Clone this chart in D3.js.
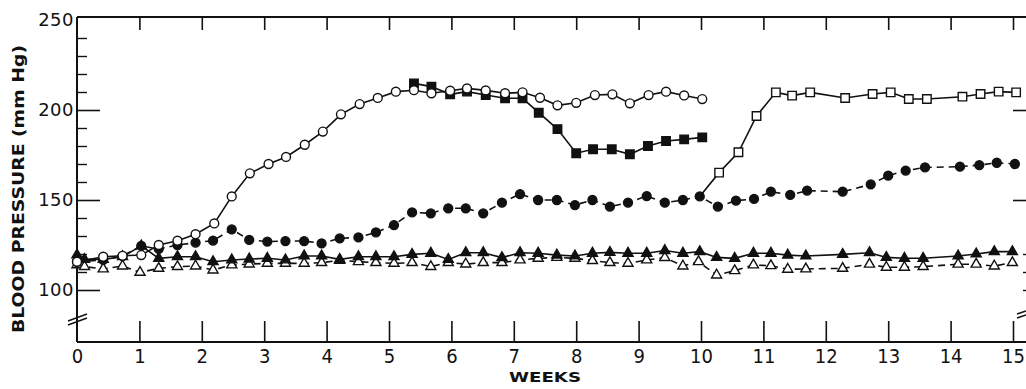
<!DOCTYPE html>
<html>
<head>
<meta charset="utf-8">
<script src="https://cdn.jsdelivr.net/npm/d3@7"></script>
<style>
  html, body { margin: 0; padding: 0; background: #fff; }
  svg { display: block; }
</style>
</head>
<body>
<div id="chart"></div>
<script>
// weeks on the x axis, blood pressure (mm Hg) on the y axis
const weekTicks = d3.range(0, 16);
const bpLabels = [100, 150, 200, 250];
const bpMinor = [110, 120, 130, 140, 160, 170, 180, 190, 210, 220, 230, 240];

// open circles, solid line
const openCircleWeeks = [0, 0.42, 0.73, 1.03, 1.31, 1.61, 1.90, 2.20, 2.48, 2.77, 3.07, 3.35, 3.65, 3.94, 4.23, 4.53, 4.82, 5.11, 5.40, 5.68, 5.98, 6.25, 6.55, 6.86, 7.14, 7.42, 7.70, 8.00, 8.30, 8.58, 8.86, 9.16, 9.44, 9.73, 10.02];
const openCircleBP = [115.7, 118.5, 119, 119.4, 125, 127.4, 131, 137, 152, 164.8, 170, 173.9, 180.7, 188, 197.6, 203.3, 206.7, 210.2, 211, 209.3, 210.7, 212, 210.9, 209.3, 209.8, 206.8, 202.6, 204, 208.3, 208.7, 203.7, 208.3, 210.2, 208.1, 206.1];

// filled squares, solid line
const filledSquareWeeks = [5.40, 5.68, 5.98, 6.25, 6.55, 6.86, 7.14, 7.40, 7.70, 8.00, 8.27, 8.57, 8.86, 9.15, 9.44, 9.73, 10.02];
const filledSquareBP = [214.8, 213, 208.7, 210.2, 208.3, 206.5, 206.5, 198.5, 189.4, 176, 178.2, 178.2, 175.4, 180, 182.8, 183.7, 184.8];

// open squares, solid line (branches off the filled circles at week 10)
const openSquareWeeks = [10.29, 10.60, 10.89, 11.20, 11.46, 11.75, 12.31, 12.75, 13.04, 13.33, 13.62, 14.19, 14.48, 14.77, 15.05];
const openSquareBP = [165.2, 176.5, 196.7, 209.8, 208, 209.8, 206.7, 208.9, 209.8, 206.1, 206.1, 207.4, 208.9, 210.2, 209.8];

// filled circles, dashed line
const filledCircleWeeks = [0, 0.42, 0.73, 1.03, 1.31, 1.61, 1.90, 2.18, 2.48, 2.76, 3.05, 3.34, 3.64, 3.92, 4.21, 4.51, 4.79, 5.08, 5.37, 5.67, 5.95, 6.23, 6.51, 6.81, 7.10, 7.39, 7.69, 7.98, 8.26, 8.54, 8.83, 9.13, 9.42, 9.71, 9.98, 10.27, 10.56, 10.85, 11.12, 11.43, 11.70, 12.27, 12.72, 13.00, 13.28, 13.59, 14.15, 14.46, 14.74, 15.03];
const filledCircleBP = [115.7, 116.7, 118.9, 124.5, 122.8, 125, 126.3, 127.4, 133.7, 127.8, 126.9, 127.2, 127.2, 125.9, 128.7, 129.2, 132, 136.1, 143.1, 142.6, 145.4, 145.4, 142.6, 148.5, 153.3, 150, 150, 147.2, 150, 146.3, 148.5, 152.2, 148.5, 150, 152, 146.3, 149.6, 150.6, 154.6, 152.8, 155.2, 154.6, 158.7, 163.5, 166.3, 168.1, 168.5, 169.4, 170.7, 170];

// filled triangles, solid line
const filledTriangleWeeks = [0, 0.12, 0.42, 0.73, 1.03, 1.31, 1.61, 1.90, 2.18, 2.48, 2.76, 3.05, 3.34, 3.64, 3.92, 4.21, 4.51, 4.79, 5.08, 5.37, 5.67, 5.95, 6.23, 6.51, 6.81, 7.10, 7.39, 7.69, 7.98, 8.26, 8.54, 8.83, 9.13, 9.42, 9.71, 9.98, 10.25, 10.54, 10.84, 11.12, 11.39, 11.68, 12.27, 12.70, 12.97, 13.26, 13.56, 14.12, 14.41, 14.70, 14.99];
const filledTriangleBP = [119.5, 117, 117, 118.5, 124.5, 117.6, 118.5, 118.5, 115.7, 116.7, 117.2, 117.6, 116.7, 118.9, 118.9, 117, 118.5, 118.5, 118.5, 119.8, 120.4, 117, 120.7, 120.7, 118, 120.7, 120.4, 119.4, 118.9, 120.4, 120.9, 120.4, 120.4, 121.9, 120.4, 121.3, 118.1, 117.6, 120.4, 120.4, 119.4, 118.9, 119.8, 120.7, 118.1, 117.6, 117.6, 118.9, 120, 121.3, 121.3];

// open triangles, dashed line
const openTriangleWeeks = [0, 0.12, 0.42, 0.73, 1.01, 1.31, 1.61, 1.90, 2.18, 2.48, 2.76, 3.05, 3.34, 3.64, 3.92, 4.21, 4.51, 4.79, 5.08, 5.37, 5.67, 5.95, 6.23, 6.51, 6.81, 7.10, 7.39, 7.69, 7.98, 8.26, 8.54, 8.83, 9.13, 9.42, 9.71, 9.96, 10.25, 10.54, 10.84, 11.12, 11.39, 11.68, 12.27, 12.70, 12.97, 13.26, 13.56, 14.12, 14.41, 14.70, 14.99];
const openTriangleBP = [114, 113, 111.7, 113.3, 109.8, 112, 113, 113.3, 111.1, 113.9, 114.4, 114.8, 114.8, 114.8, 115.2, 116.5, 115.7, 115.2, 114.8, 115.2, 113, 115.2, 114.4, 115.2, 115.2, 116.7, 117.6, 118.1, 117.6, 116.3, 115.2, 114.8, 116.7, 118, 113.3, 115.7, 108.3, 110.7, 113.9, 113.5, 111.5, 111.7, 112, 114.3, 112.6, 112.6, 113, 114.3, 114.3, 113.3, 115.2];

const width = 1026, height = 389;
const frameTop = 17, axisY = 342, axisX = 77, rightX = 1026;

const x = d3.scaleLinear().domain([0, 15]).range([77, 1013]);
const y = d3.scaleLinear().domain([100, 250]).range([290, 20]);

const svg = d3.select("#chart").append("svg")
  .attr("width", width)
  .attr("height", height);

svg.append("rect").attr("width", width).attr("height", height).attr("fill", "#fff");

const ink = "#111";

// frame lines
svg.append("line").attr("x1", axisX).attr("x2", rightX).attr("y1", axisY).attr("y2", axisY)
  .attr("stroke", ink).attr("stroke-width", 2);
svg.append("line").attr("x1", axisX).attr("x2", rightX).attr("y1", frameTop).attr("y2", frameTop)
  .attr("stroke", ink).attr("stroke-width", 2);
svg.append("line").attr("x1", axisX).attr("x2", axisX).attr("y1", frameTop).attr("y2", axisY)
  .attr("stroke", ink).attr("stroke-width", 2);

// bottom axis: ticks point up into the plot
const xAxisBottom = svg.append("g")
  .attr("transform", "translate(0," + axisY + ")")
  .call(d3.axisBottom(x).tickValues(weekTicks).tickSizeInner(-21).tickSizeOuter(0).tickPadding(7).tickFormat(d3.format("d")));
xAxisBottom.select(".domain").remove();
xAxisBottom.selectAll(".tick line").attr("stroke", ink).attr("stroke-width", 1.6)
  .filter(d => d === 0).remove();
xAxisBottom.selectAll("text")
  .style("font-family", "'DejaVu Sans Condensed', 'DejaVu Sans', sans-serif")
  .style("font-stretch", "condensed")
  .style("font-size", "20px")
  .attr("fill", ink);

// top axis: ticks hang down from the frame
const xAxisTop = svg.append("g")
  .attr("transform", "translate(0," + frameTop + ")")
  .call(d3.axisTop(x).tickValues(weekTicks.slice(1)).tickSizeInner(-13).tickSizeOuter(0).tickFormat(""));
xAxisTop.select(".domain").remove();
xAxisTop.selectAll(".tick line").attr("stroke", ink).attr("stroke-width", 1.6);

// left axis, major ticks + labels
const yAxisLeft = svg.append("g")
  .attr("transform", "translate(" + axisX + ",0)")
  .call(d3.axisLeft(y).tickValues(bpLabels).tickSizeInner(-23).tickSizeOuter(0).tickPadding(3));
yAxisLeft.select(".domain").remove();
yAxisLeft.selectAll(".tick line").attr("stroke", ink).attr("stroke-width", 1.6);
yAxisLeft.selectAll(".tick").filter(d => d === 250).select("line").remove();
yAxisLeft.selectAll("text")
  .style("font-family", "'DejaVu Sans', sans-serif")
  .style("font-size", "18px")
  .style("letter-spacing", "0.5px")
  .attr("fill", ink);

// left axis, minor ticks
const yMinorLeft = svg.append("g")
  .attr("transform", "translate(" + axisX + ",0)")
  .call(d3.axisLeft(y).tickValues(bpMinor).tickSizeInner(-10).tickSizeOuter(0).tickFormat(""));
yMinorLeft.select(".domain").remove();
yMinorLeft.selectAll(".tick line").attr("stroke", ink).attr("stroke-width", 1.4);

// right axis (mostly off the edge), ticks pointing left
const yAxisRight = svg.append("g")
  .attr("transform", "translate(" + rightX + ",0)")
  .call(d3.axisRight(y).tickValues([150, 200]).tickSizeInner(-13).tickSizeOuter(0).tickFormat(""));
yAxisRight.select(".domain").remove();
yAxisRight.selectAll(".tick line").attr("stroke", ink).attr("stroke-width", 1.6);
const yMinorRight = svg.append("g")
  .attr("transform", "translate(" + rightX + ",0)")
  .call(d3.axisRight(y).tickValues([100, 110, 120]).tickSizeInner(-3).tickSizeOuter(0).tickFormat(""));
yMinorRight.select(".domain").remove();
yMinorRight.selectAll(".tick line").attr("stroke", ink).attr("stroke-width", 1.4);

// axis break marks
[[68, 325, 87, 318], [68, 321, 87, 314], [1017, 318, 1026, 315], [1017, 314, 1026, 311]].forEach(s => {
  svg.append("line").attr("x1", s[0]).attr("y1", s[1]).attr("x2", s[2]).attr("y2", s[3])
    .attr("stroke", ink).attr("stroke-width", 1.4);
});

// axis titles
svg.append("text")
  .attr("transform", "translate(24,189) rotate(-90)")
  .attr("text-anchor", "middle")
  .attr("textLength", 288)
  .attr("lengthAdjust", "spacingAndGlyphs")
  .style("font-family", "'DejaVu Sans', sans-serif")
  .style("font-weight", "bold")
  .style("font-size", "15px")
  .attr("fill", ink)
  .text("BLOOD PRESSURE (mm Hg)");

svg.append("text")
  .attr("x", 545).attr("y", 382)
  .attr("text-anchor", "middle")
  .attr("textLength", 72)
  .attr("lengthAdjust", "spacingAndGlyphs")
  .style("font-family", "'DejaVu Sans', sans-serif")
  .style("font-weight", "bold")
  .style("font-size", "14px")
  .attr("fill", ink)
  .text("WEEKS");

// series
const pts = (wk, bp) => wk.map((w, i) => ({ w: w, v: bp[i] }));
const openCircles = pts(openCircleWeeks, openCircleBP);
const filledSquares = pts(filledSquareWeeks, filledSquareBP);
const openSquares = pts(openSquareWeeks, openSquareBP);
const filledCircles = pts(filledCircleWeeks, filledCircleBP);
const filledTriangles = pts(filledTriangleWeeks, filledTriangleBP);
const openTriangles = pts(openTriangleWeeks, openTriangleBP);

// open squares start from the filled-circle reading at week 10
const branch = filledCircles.reduce((a, b) => Math.abs(b.w - 10) < Math.abs(a.w - 10) ? b : a);

const line = d3.line().x(d => x(d.w)).y(d => y(d.v));

const series = [
  { data: openTriangles, dash: "7,5", shape: d3.symbolTriangle, size: 44, fill: "#fff" },
  { data: filledTriangles, dash: null, shape: d3.symbolTriangle, size: 44, fill: ink },
  { data: filledCircles, dash: "7,5", shape: d3.symbolCircle, size: 62, fill: ink },
  { data: filledSquares, dash: null, shape: d3.symbolSquare, size: 72, fill: ink },
  { data: openCircles, dash: null, shape: d3.symbolCircle, size: 62, fill: "#fff" },
  { data: openSquares, dash: null, shape: d3.symbolSquare, size: 72, fill: "#fff", from: branch }
];

const plot = svg.append("g");

series.forEach(s => {
  const path = s.from ? [s.from].concat(s.data) : s.data;
  plot.append("path")
    .attr("d", line(path))
    .attr("fill", "none")
    .attr("stroke", ink)
    .attr("stroke-width", 1.6)
    .attr("stroke-dasharray", s.dash);
});

series.forEach(s => {
  plot.append("g").selectAll("path")
    .data(s.data)
    .enter()
    .append("path")
    .attr("d", d3.symbol().type(s.shape).size(s.size))
    .attr("transform", d => "translate(" + x(d.w) + "," + y(d.v) + ")")
    .attr("fill", s.fill)
    .attr("stroke", ink)
    .attr("stroke-width", 1.4);
});
</script>
</body>
</html>
